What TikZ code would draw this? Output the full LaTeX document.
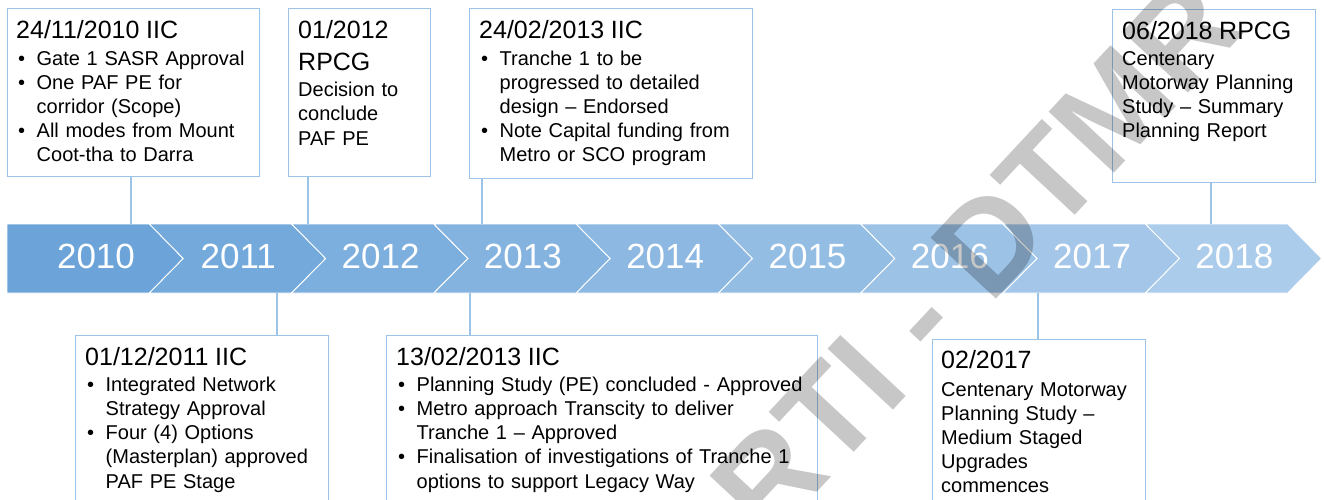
\documentclass[tikz,border=0pt]{standalone}
\usepackage{fontspec}
\setmainfont{Liberation Sans}

\definecolor{bandstart}{RGB}{108,164,217}
\definecolor{bandend}{RGB}{172,204,235}
\definecolor{boxline}{RGB}{157,195,230}

\tikzset{
  box/.style={draw=boxline, line width=1.1pt, fill=white, anchor=north west, inner sep=0pt},
  note/.style={anchor=base west, inner sep=0pt, text width=440pt, align=left,
    font=\fontsize{20}{24.2}\selectfont},
  year/.style={anchor=base, text=white, inner sep=0pt, font=\fontsize{35}{40}\selectfont},
  link/.style={draw=boxline, line width=1.1pt},
  stamp/.style={anchor=base west, inner sep=0pt, rotate=47, text=black, text opacity=0.22,
    font=\bfseries\fontsize{130}{130}\selectfont}
}
\newcommand{\hd}[1]{{\fontsize{25}{30}\selectfont #1}}
\newcommand{\itm}{\makebox[20.5pt][l]{\hspace{2pt}\textbullet}}
\newcommand{\ind}{\hspace*{20.5pt}}

\begin{document}
\begin{tikzpicture}[x=1pt,y=1pt]
\useasboundingbox (0,0) rectangle (1324,-499);
\clip (0,0) rectangle (1324,-499);

% year band
\foreach \yr [count=\i from 0] in {2010,...,2018} {
  \pgfmathsetmacro{\xa}{7+142.3*\i}
  \pgfmathsetmacro{\pct}{100*\i/8}
  \pgfmathsetmacro{\nd}{\i==0 ? 0 : 34}
  \colorlet{seg}{bandend!\pct!bandstart}
  \filldraw [fill=seg, draw=white, line width=0.9pt] (\xa,-224) -- ++(142.3,0) -- ++(34,-34.5)
    -- ++(-34,-34.5) -- ++(-142.3,0) -- ++(\nd,34.5) -- cycle;
  \node [year] (y\yr) at (\xa+89,-268) {\yr};
}

% events above the band
\node [box, minimum width=252pt, minimum height=168pt] (evA) at (7,-8) {};
\node [note] (txA) at (16,-38.3) {\hd{24/11/2010 IIC}\\[2.5pt]
  \itm Gate 1 SASR Approval\\
  \itm One PAF PE for\\
  \ind corridor (Scope)\\
  \itm All modes from Mount\\
  \ind Coot-tha to Darra};

\node [box, minimum width=142pt, minimum height=168pt] (evB) at (288,-8) {};
\node [note] (txB) at (298,-38.3) {\hd{01/2012}\\[7.5pt]
  \hd{RPCG}\\[2.5pt]
  Decision to\\
  conclude\\
  PAF PE};

\node [box, minimum width=283pt, minimum height=170pt] (evC) at (469,-8) {};
\node [note] (txC) at (479,-38.3) {\hd{24/02/2013 IIC}\\[2.5pt]
  \itm Tranche 1 to be\\
  \ind progressed to detailed\\
  \ind design -- Endorsed\\
  \itm Note Capital funding from\\
  \ind Metro or SCO program};

\node [box, minimum width=203pt, minimum height=173pt] (evD) at (1112,-9) {};
\node [note] (txD) at (1122,-39.3) {\hd{06/2018 RPCG}\\[1.5pt]
  Centenary\\
  Motorway Planning\\
  Study -- Summary\\
  Planning Report};

% events below the band
\node [box, minimum width=253pt, minimum height=180pt] (evE) at (75,-335) {};
\node [note] (txE) at (85,-365) {\hd{01/12/2011 IIC}\\[2pt]
  \itm Integrated Network\\
  \ind Strategy Approval\\
  \itm Four (4) Options\\
  \ind (Masterplan) approved\\
  \ind PAF PE Stage};

\node [box, minimum width=431pt, minimum height=180pt] (evF) at (386,-335) {};
\node [note] (txF) at (396,-365) {\hd{13/02/2013 IIC}\\[2pt]
  \itm Planning Study (PE) concluded - Approved\\
  \itm Metro approach Transcity to deliver\\
  \ind Tranche 1 -- Approved\\
  \itm Finalisation of investigations of Tranche 1\\
  \ind options to support Legacy Way};

\node [box, minimum width=213pt, minimum height=180pt] (evG) at (932,-339) {};
\node [note] (txG) at (941,-368) {\hd{02/2017}\\[3.8pt]
  Centenary Motorway\\
  Planning Study --\\
  Medium Staged\\
  Upgrades\\
  commences};

% ticks joining events to the band
\coordinate (jA) at (131,-224);
\coordinate (jB) at (308,-224);
\coordinate (jC) at (482,-224);
\coordinate (jD) at (1211,-224);
\coordinate (jE) at (277,-293);
\coordinate (jF) at (470,-293);
\coordinate (jG) at (1038,-293);
\draw [link] (evA.south -| jA) -- (jA);
\draw [link] (evB.south -| jB) -- (jB);
\draw [link] (evC.south -| jC) -- (jC);
\draw [link] (evD.south -| jD) -- (jD);
\draw [link] (jE) -- (evE.north -| jE);
\draw [link] (jF) -- (evF.north -| jF);
\draw [link] (jG) -- (evG.north -| jG);

\node [stamp] (rti) at (769,-543.5) {RTI - DTMR};
\end{tikzpicture}
\end{document}
